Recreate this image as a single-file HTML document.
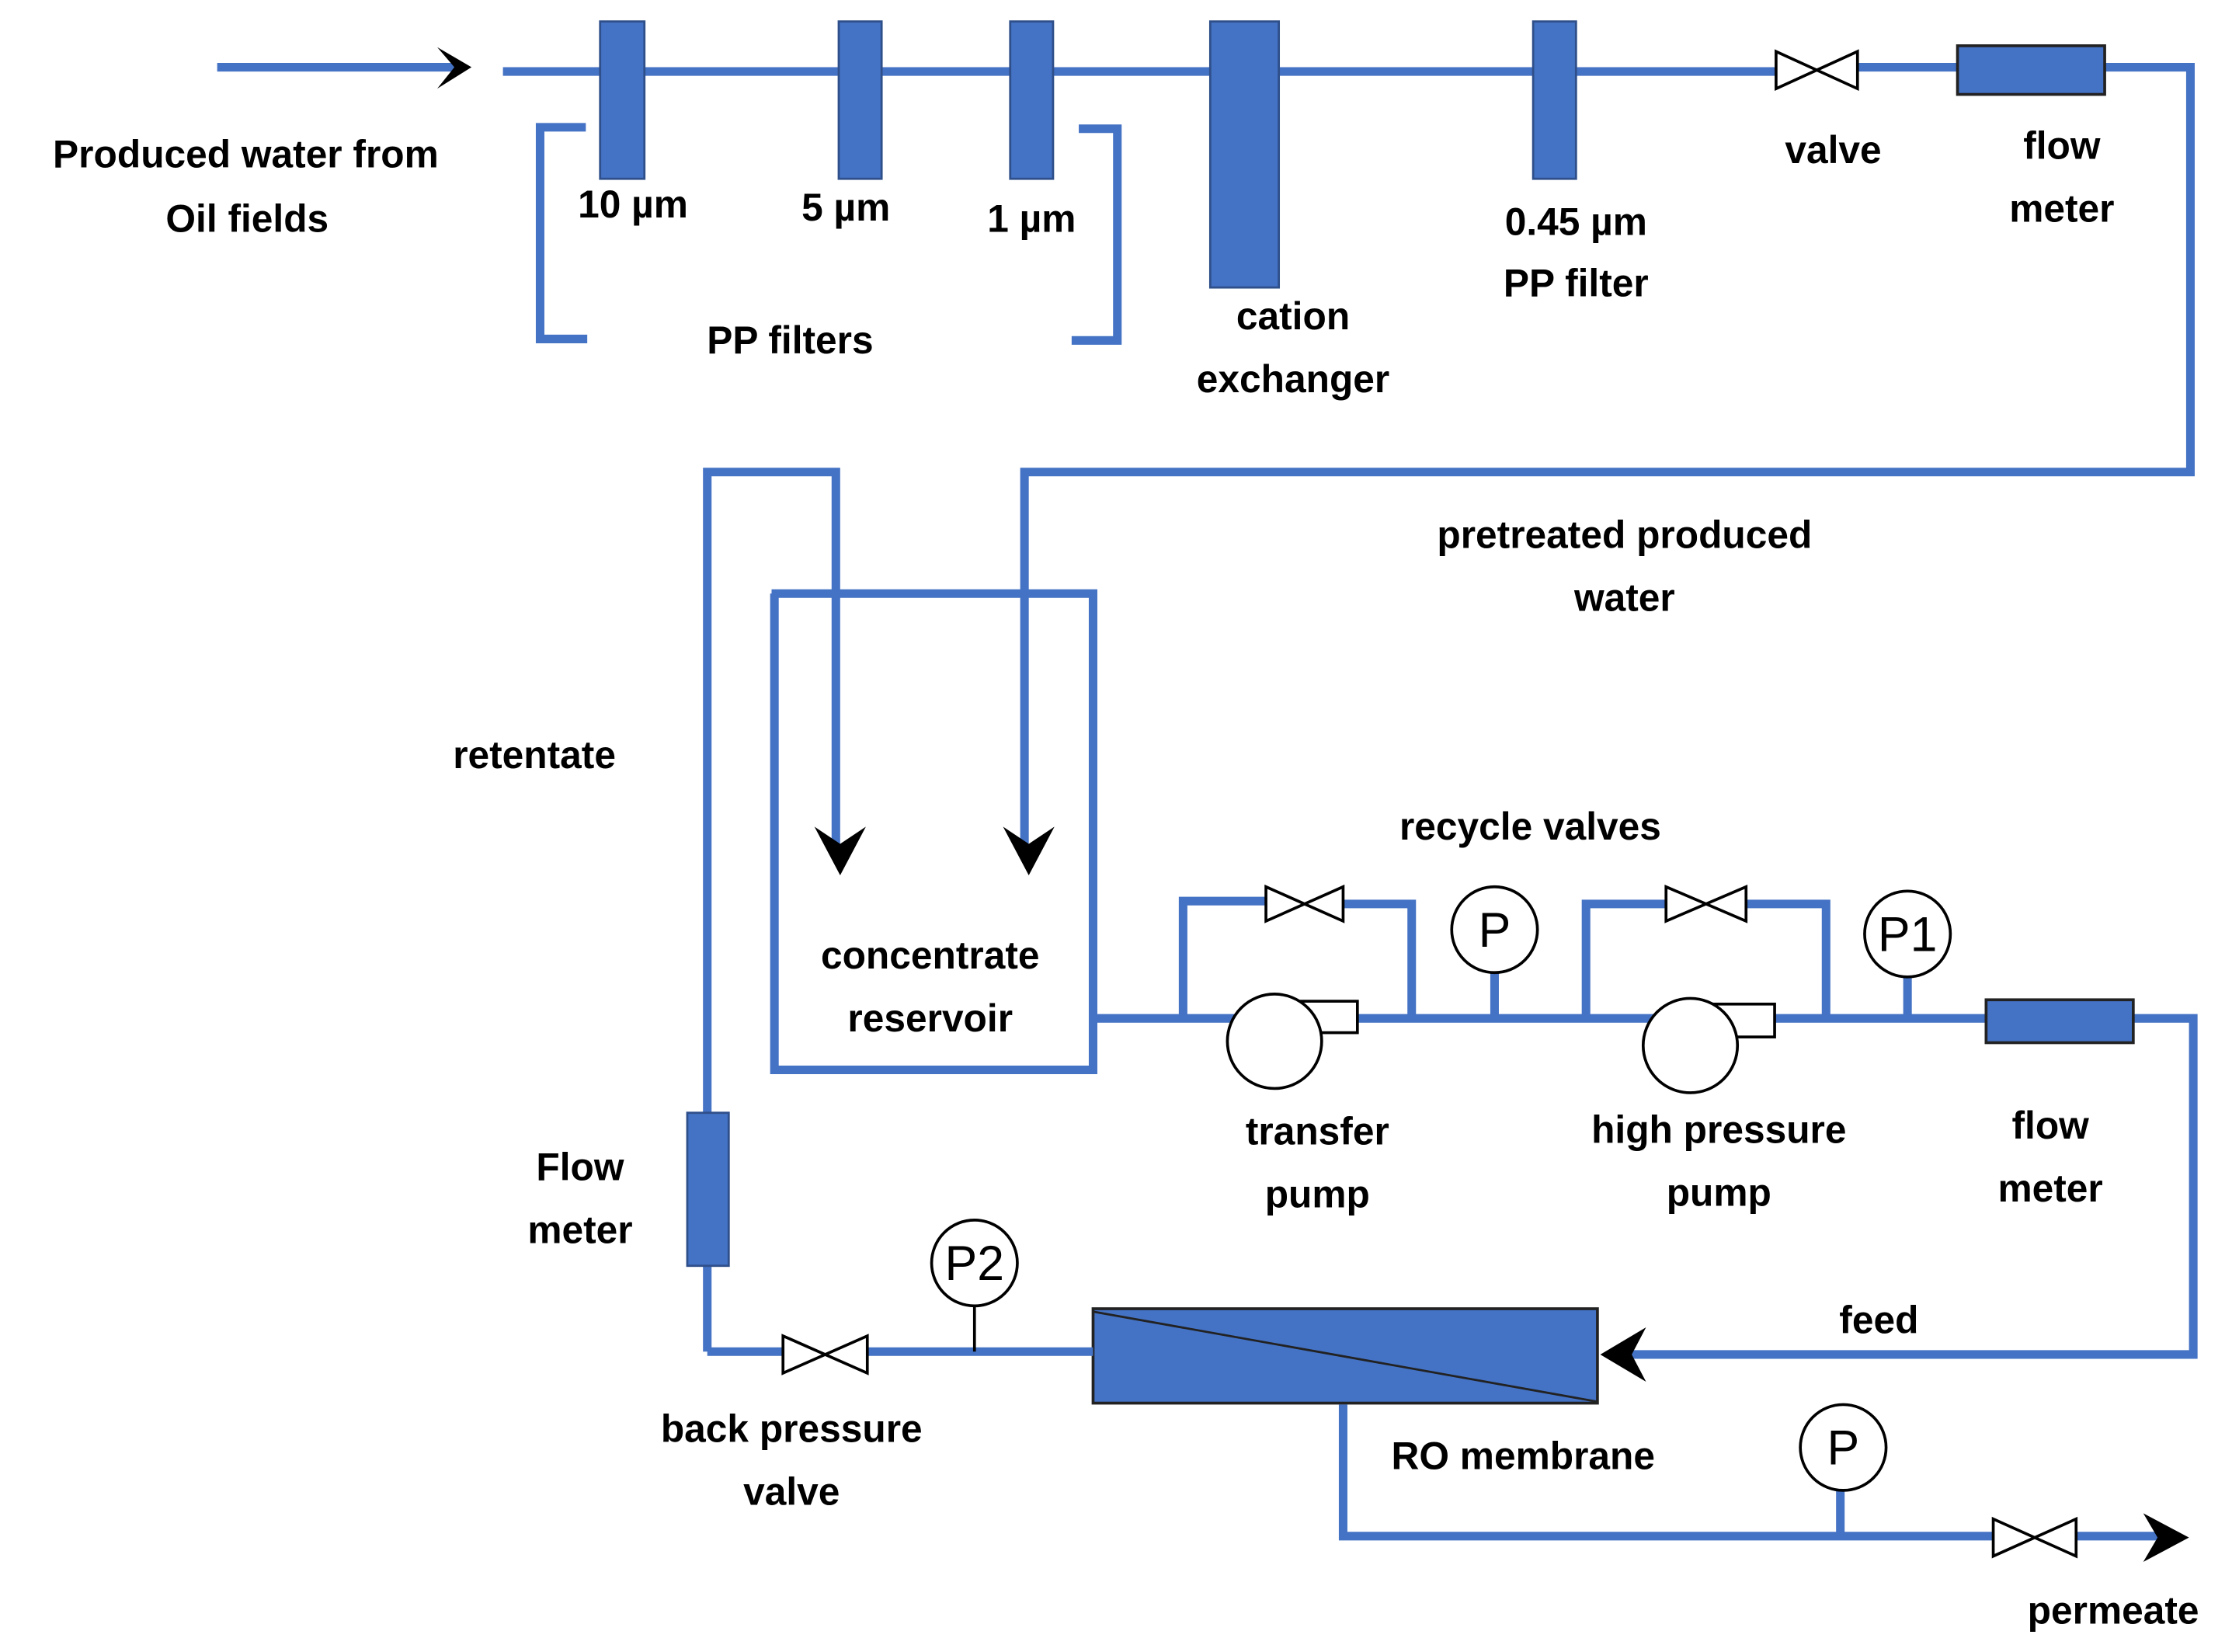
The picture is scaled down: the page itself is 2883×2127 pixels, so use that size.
<!DOCTYPE html>
<html><head><meta charset="utf-8"><style>
html,body{margin:0;padding:0;background:#fff}
svg{display:block}
text{font-family:"Liberation Sans",sans-serif;font-weight:bold;font-size:27px;fill:#000;text-anchor:middle;dominant-baseline:middle}
.p{stroke:#4472C4;stroke-width:6;fill:none}
.b{fill:#4472C4;stroke:#2f4f8a;stroke-width:1.5}
.k{fill:#fff;stroke:#000;stroke-width:2}
</style></head><body>
<svg width="2883" height="2127" viewBox="0 0 1567 1155" preserveAspectRatio="none" xmlns="http://www.w3.org/2000/svg">
<line x1="152" y1="47" x2="322" y2="47" class="p"/>
<polygon points="306,33 330,47 306,62 318,47" fill="#000"/>
<polyline class="p" points="352,50 1243,50"/>
<polyline class="p" points="1300,47 1370,47"/>
<polyline class="p" points="1472,47 1533,47 1533,330 717,330 717,590"/>
<polygon points="702,578 720,612 738,578 720,590" fill="#000"/>
<rect x="420" y="15" width="31" height="110" class="b"/>
<rect x="587" y="15" width="30" height="110" class="b"/>
<rect x="707" y="15" width="30" height="110" class="b"/>
<rect x="847" y="15" width="48" height="186" class="b"/>
<rect x="1073" y="15" width="30" height="110" class="b"/>
<polyline class="p" points="410,89 378,89 378,237 411,237"/>
<polyline class="p" points="755,90 782,90 782,238 750,238"/>
<polygon class="k" points="1243,36 1243,62 1300,36 1300,62"/>
<rect x="1370" y="32" width="103" height="34" fill="#4472C4" stroke="#222" stroke-width="2"/>
<polyline class="p" points="495,945 495,330 585,330 585,590"/>
<polygon points="570,578 588,612 606,578 588,590" fill="#000"/>
<polyline class="p" points="540,415 765,415 765,748 542,748 542,415"/>
<polyline class="p" points="765,712 1535,712 1535,947 1140,947"/>
<polygon points="1120,947 1152,928 1142,947 1152,966" fill="#000"/>
<polyline class="p" points="828,712 828,630 886,630"/>
<polyline class="p" points="940,632 988,632 988,712"/>
<polygon class="k" points="886,620 886,644 940,620 940,644"/>
<rect x="892" y="700" width="58" height="22" class="k"/>
<circle cx="892" cy="728" r="33" class="k"/>
<line x1="1046" y1="680" x2="1046" y2="712" class="p"/>
<circle cx="1046" cy="650" r="30" class="k"/>
<text x="1046" y="653" style="font-weight:normal;font-size:34px">P</text>
<polyline class="p" points="1110,712 1110,632 1166,632"/>
<polyline class="p" points="1222,632 1278,632 1278,712"/>
<polygon class="k" points="1166,620 1166,644 1222,620 1222,644"/>
<rect x="1183" y="702" width="59" height="23" class="k"/>
<circle cx="1183" cy="731" r="33" class="k"/>
<line x1="1335" y1="683" x2="1335" y2="712" class="p"/>
<circle cx="1335" cy="653" r="30" class="k"/>
<text x="1335" y="656" style="font-weight:normal;font-size:34px">P1</text>
<rect x="1390" y="699" width="103" height="30" fill="#4472C4" stroke="#222" stroke-width="2"/>
<rect x="765" y="915" width="353" height="66" fill="#4472C4" stroke="#222" stroke-width="2"/>
<line x1="765" y1="917" x2="1118" y2="980" stroke="#222" stroke-width="1.5"/>
<polyline class="p" points="765,945 607,945"/>
<polyline class="p" points="548,945 495,945"/>
<polygon class="k" points="548,934 548,960 607,934 607,960"/>
<rect x="481" y="778" width="29" height="107" class="b"/>
<line x1="682" y1="912" x2="682" y2="945" stroke="#000" stroke-width="2"/>
<circle cx="682" cy="883" r="30" class="k"/>
<text x="682" y="886" style="font-weight:normal;font-size:34px">P2</text>
<polyline class="p" points="940,982 940,1074 1395,1074"/>
<polyline class="p" points="1453,1074 1515,1074"/>
<polygon class="k" points="1395,1062 1395,1088 1453,1062 1453,1088"/>
<polygon points="1500,1058 1532,1075 1500,1092 1510,1075" fill="#000"/>
<line x1="1288" y1="1042" x2="1288" y2="1074" class="p"/>
<circle cx="1290" cy="1012" r="30" class="k"/>
<text x="1290" y="1015" style="font-weight:normal;font-size:34px">P</text>
<text x="172" y="110">Produced water from</text>
<text x="173" y="155">Oil fields</text>
<text x="443" y="145">10 µm</text>
<text x="592" y="147">5 µm</text>
<text x="722" y="155">1 µm</text>
<text x="553" y="240">PP filters</text>
<text x="905" y="223">cation</text>
<text x="905" y="267">exchanger</text>
<text x="1103" y="157">0.45 µm</text>
<text x="1103" y="200">PP filter</text>
<text x="1283" y="107">valve</text>
<text x="1443" y="104">flow</text>
<text x="1443" y="148">meter</text>
<text x="1137" y="376">pretreated produced</text>
<text x="1137" y="420">water</text>
<text x="374" y="530">retentate</text>
<text x="1071" y="580">recycle valves</text>
<text x="651" y="670">concentrate</text>
<text x="651" y="714">reservoir</text>
<text x="922" y="793">transfer</text>
<text x="922" y="837">pump</text>
<text x="1203" y="792">high pressure</text>
<text x="1203" y="836">pump</text>
<text x="1435" y="789">flow</text>
<text x="1435" y="833">meter</text>
<text x="406" y="818">Flow</text>
<text x="406" y="862">meter</text>
<text x="1315" y="925">feed</text>
<text x="554" y="1001">back pressure</text>
<text x="554" y="1045">valve</text>
<text x="1066" y="1020">RO membrane</text>
<text x="1479" y="1128">permeate</text>
</svg>
</body></html>
